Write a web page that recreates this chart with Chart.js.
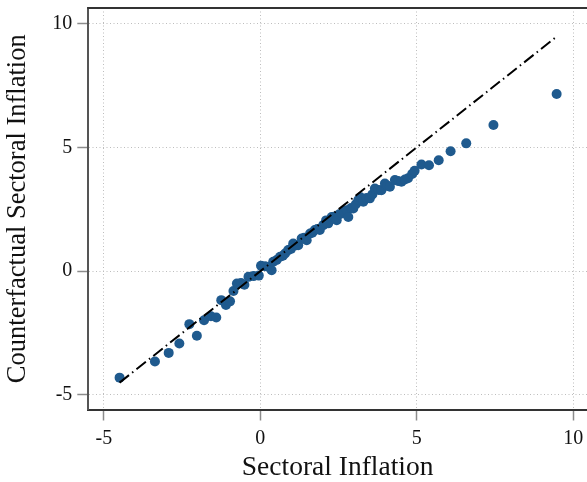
<!DOCTYPE html>
<html>
<head>
<meta charset="utf-8">
<script src="https://cdn.jsdelivr.net/npm/chart.js@4"></script>
<style>
  html, body { margin: 0; padding: 0; background: #fff; }
  #wrap { width: 587px; height: 482px; position: relative; }
</style>
</head>
<body>
<div id="wrap"><canvas id="chart"></canvas></div>
<script>
// sectoral inflation (x) vs counterfactual sectoral inflation (y)
const sectoral = [
    -4.50, -3.37, -2.93, -2.59, -2.27, -2.03, -1.80, -1.58, -1.41, -1.25,
    -1.10, -0.97, -0.86, -0.75, -0.62, -0.51, -0.38, -0.22, -0.05, 0.02,
    0.15, 0.26, 0.36, 0.41, 0.52, 0.63, 0.72, 0.79, 0.89, 0.98,
    1.05, 1.15, 1.21, 1.32, 1.40, 1.48, 1.59, 1.66, 1.74, 1.82,
    1.90, 2.01, 2.10, 2.17, 2.28, 2.35, 2.44, 2.52, 2.60, 2.68,
    2.76, 2.81, 2.90, 2.97, 3.05, 3.13, 3.20, 3.29, 3.40, 3.50,
    3.58, 3.66, 3.78, 3.87, 3.98, 4.06, 4.14, 4.30, 4.40, 4.51,
    4.62, 4.72, 4.85, 4.93, 5.15, 5.39, 5.70, 6.08, 6.58, 7.45,
    9.47
];
const counterfactual = [
    -4.30, -3.65, -3.30, -2.92, -2.14, -2.61, -1.98, -1.82, -1.87, -1.17,
    -1.37, -1.22, -0.80, -0.50, -0.48, -0.55, -0.23, -0.20, -0.18, 0.22,
    0.20, 0.17, 0.04, 0.38, 0.45, 0.58, 0.62, 0.71, 0.85, 0.90,
    1.12, 1.05, 1.05, 1.32, 1.35, 1.25, 1.52, 1.55, 1.66, 1.70,
    1.66, 1.86, 2.05, 1.93, 2.19, 2.20, 2.06, 2.30, 2.33, 2.42,
    2.46, 2.19, 2.55, 2.53, 2.70, 2.87, 2.98, 2.80, 2.95, 2.94,
    3.10, 3.34, 3.28, 3.27, 3.54, 3.45, 3.41, 3.68, 3.64, 3.61,
    3.70, 3.75, 3.92, 4.05, 4.31, 4.28, 4.48, 4.84, 5.16, 5.90,
    7.15
];
// 45 degree line endpoints
const diagonalEnds = [-4.5, 9.5];
const xTicks = [-5, 0, 5, 10];
const yTicks = [-5, 0, 5, 10];

const serif = "'Liberation Serif', 'DejaVu Serif', serif";

const points = sectoral.map((x, i) => ({ x: x, y: counterfactual[i] }));
const diagonal = diagonalEnds.map(v => ({ x: v, y: v }));

// frame: top border line (axes draw the left and bottom ones)
const framePlugin = {
    id: 'frame',
    afterDraw(chart) {
        const { ctx, chartArea } = chart;
        ctx.save();
        ctx.strokeStyle = '#333';
        ctx.lineWidth = 2;
        ctx.beginPath();
        ctx.moveTo(chartArea.left - 1, chartArea.top);
        ctx.lineTo(chartArea.right, chartArea.top);
        ctx.stroke();
        ctx.restore();
    }
};

function gridStyle() {
    return {
        color: '#bdbdbd',
        lineWidth: 1,
        tickColor: '#8c8c8c',
        tickLength: 11,
        tickWidth: 1.5,
        tickBorderDash: []
    };
}

new Chart(document.getElementById('chart'), {
    type: 'scatter',
    data: {
        datasets: [
            {
                type: 'line',
                data: diagonal,
                borderColor: '#000',
                borderWidth: 2,
                borderDash: [12, 4, 1.5, 4],
                pointRadius: 0,
                fill: false
            },
            {
                data: points,
                backgroundColor: '#1f5a8e',
                borderColor: '#1f5a8e',
                pointRadius: 5,
                borderWidth: 0
            }
        ]
    },
    plugins: [framePlugin],
    options: {
        responsive: true,
        maintainAspectRatio: false,
        animation: false,
        layout: { autoPadding: false, padding: { top: 8, right: 0, left: 0, bottom: 0 } },
        plugins: {
            legend: { display: false },
            tooltip: { enabled: false }
        },
        scales: {
            x: {
                type: 'linear',
                min: -5.5,
                max: 10.44,
                afterBuildTicks: s => { s.ticks = xTicks.map(v => ({ value: v })); },
                afterFit: s => {
                    s.height = 72.5;
                    s.paddingLeft = 0;
                    s.paddingRight = 0;
                },
                grid: gridStyle(),
                border: { display: true, color: '#333', width: 2, dash: [1, 2.5] },
                ticks: {
                    color: '#111',
                    padding: 6,
                    maxRotation: 0,
                    font: { family: serif, size: 20 }
                },
                title: {
                    display: true,
                    text: 'Sectoral Inflation',
                    color: '#111',
                    padding: { top: 0, bottom: 0 },
                    font: { family: serif, size: 27.5, lineHeight: 1 }
                }
            },
            y: {
                type: 'linear',
                min: -5.586,
                max: 10.626,
                afterBuildTicks: s => { s.ticks = yTicks.map(v => ({ value: v })); },
                afterFit: s => {
                    s.width = 88.3;
                    s.paddingTop = 0;
                    s.paddingBottom = 0;
                },
                grid: gridStyle(),
                border: { display: true, color: '#555', width: 2, dash: [1, 2.5] },
                ticks: {
                    color: '#111',
                    padding: 5,
                    font: { family: serif, size: 20 }
                },
                title: {
                    display: true,
                    text: 'Counterfactual Sectoral Inflation',
                    color: '#111',
                    padding: { top: 5, bottom: 0 },
                    font: { family: serif, size: 26.5, lineHeight: 1 }
                }
            }
        }
    }
});
</script>
</body>
</html>
